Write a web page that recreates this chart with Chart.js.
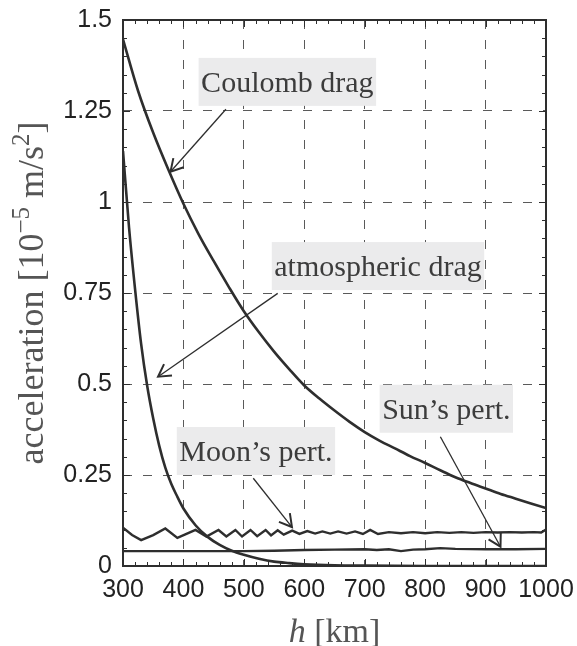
<!DOCTYPE html>
<html><head><meta charset="utf-8">
<script src="https://cdn.jsdelivr.net/npm/chart.js@4.4.1/dist/chart.umd.min.js"></script>
<style>html,body{margin:0;padding:0;background:#fff;}canvas{display:block;}</style>
</head><body>
<canvas id="c" width="577" height="646"></canvas>
<script>
// ---- data (altitude h in km, acceleration in 1e-5 m/s^2) ----
const xTickValues = [300, 400, 500, 600, 700, 800, 900, 1000];
const xTickLabels = ['300', '400', '500', '600', '700', '800', '900', '1000'];
const yTickValues = [0, 0.25, 0.5, 0.75, 1, 1.25, 1.5];
const yTickLabels = ['0', '0.25', '0.5', '0.75', '1', '1.25', '1.5'];

const coulombH = [300, 325, 350, 375, 400, 425, 450, 475, 500, 525, 550, 575, 600, 625, 650, 675, 700, 725, 750, 775, 800, 825, 850, 875, 900, 925, 950, 975, 1000];
const coulombA = [1.447, 1.305, 1.19, 1.089, 0.995, 0.912, 0.838, 0.767, 0.700, 0.642, 0.589, 0.541, 0.496, 0.460, 0.427, 0.396, 0.368, 0.344, 0.323, 0.302, 0.283, 0.263, 0.244, 0.228, 0.213, 0.198, 0.185, 0.172, 0.159];

const atmoH = [300, 310, 320, 330, 340, 350, 360, 370, 380, 390, 400, 420, 440, 460, 480, 500, 525, 550, 575, 600, 650, 700, 800, 1000];
const atmoA = [1.14, 0.93, 0.76, 0.61, 0.495, 0.405, 0.33, 0.27, 0.225, 0.19, 0.158, 0.112, 0.08, 0.058, 0.042, 0.031, 0.02, 0.012, 0.008, 0.005, 0.002, 0.001, 0.0, 0.0];

const moonH = [300, 315, 330, 350, 370, 390, 405, 420, 438, 458, 471, 486, 497, 511, 522, 536, 545, 556, 566, 580, 592, 605, 618, 630, 643, 656, 670, 684, 697, 709, 722, 740, 760, 780, 800, 820, 840, 860, 880, 900, 920, 940, 960, 980, 992, 1000];
const moonA = [0.105, 0.085, 0.071, 0.085, 0.103, 0.077, 0.088, 0.099, 0.081, 0.099, 0.081, 0.099, 0.081, 0.099, 0.082, 0.099, 0.084, 0.098, 0.086, 0.097, 0.088, 0.096, 0.089, 0.095, 0.089, 0.095, 0.089, 0.095, 0.088, 0.099, 0.088, 0.093, 0.090, 0.093, 0.090, 0.093, 0.091, 0.093, 0.091, 0.093, 0.092, 0.093, 0.092, 0.093, 0.092, 0.100];

const sunH = [300, 400, 500, 550, 600, 650, 700, 720, 740, 760, 780, 800, 825, 850, 900, 950, 1000];
const sunA = [0.041, 0.041, 0.041, 0.042, 0.044, 0.045, 0.046, 0.044, 0.046, 0.041, 0.045, 0.046, 0.049, 0.047, 0.046, 0.046, 0.047];

// annotations (data coordinates)
const noteTexts = ['Coulomb drag', 'atmospheric drag', 'Moon\u2019s pert.', 'Sun\u2019s pert.'];
const noteBoxH = [572, 722, 520, 835];
const noteBoxA = [1.33, 0.824, 0.316, 0.432];
const arrowFromH = [470.3, 556, 515.6, 825.2];
const arrowFromA = [1.2547, 0.749, 0.241, 0.355];
const arrowToH = [378.6, 358, 579.6, 924.7];
const arrowToA = [1.083, 0.52, 0.107, 0.053];

// ---- styling ----
const INK = '#2e2e2e';
const serif = '"Liberation Serif", "DejaVu Serif", serif';
const sans = '"Liberation Sans", Arial, sans-serif';

const pts = (xs, ys) => xs.map((v, i) => ({x: v, y: ys[i]}));

const decor = {
  id: 'decor',
  beforeDatasetsDraw(chart) {
    const {ctx, scales: {x, y}} = chart;
    ctx.save();
    ctx.font = '30px ' + serif;
    noteTexts.forEach((t, i) => {
      const cx = x.getPixelForValue(noteBoxH[i]);
      const cy = y.getPixelForValue(noteBoxA[i]);
      const w = ctx.measureText(t).width + 5;
      ctx.fillStyle = '#ebebec';
      ctx.fillRect(cx - w / 2, cy - 24, w, 48);
    });
    ctx.restore();
  },
  afterDatasetsDraw(chart) {
    const {ctx, chartArea: a, scales: {x, y}} = chart;
    ctx.save();
    // annotation texts
    ctx.font = '30px ' + serif;
    ctx.fillStyle = '#3c3c3c';
    ctx.textBaseline = 'alphabetic';
    ctx.textAlign = 'left';
    noteTexts.forEach((t, i) => {
      const cx = x.getPixelForValue(noteBoxH[i]);
      const cy = y.getPixelForValue(noteBoxA[i]);
      const w = ctx.measureText(t).width;
      ctx.fillText(t, cx - w / 2, cy + 10);
    });
    // arrows
    ctx.strokeStyle = INK;
    noteTexts.forEach((t, i) => {
      const x0 = x.getPixelForValue(arrowFromH[i]), y0 = y.getPixelForValue(arrowFromA[i]);
      const x1 = x.getPixelForValue(arrowToH[i]), y1 = y.getPixelForValue(arrowToA[i]);
      const ang = Math.atan2(y1 - y0, x1 - x0);
      ctx.lineWidth = 1.3;
      ctx.beginPath();
      ctx.moveTo(x0, y0); ctx.lineTo(x1, y1);
      ctx.stroke();
      const L = 14, da = 0.52;
      ctx.lineWidth = 2;
      ctx.beginPath();
      ctx.moveTo(x1 - L * Math.cos(ang - da), y1 - L * Math.sin(ang - da));
      ctx.lineTo(x1, y1);
      ctx.lineTo(x1 - L * Math.cos(ang + da), y1 - L * Math.sin(ang + da));
      ctx.stroke();
    });
    // minor / major inward ticks on all sides
    ctx.strokeStyle = INK;
    ctx.lineWidth = 1;
    ctx.beginPath();
    for (let v = 300; v <= 1000.001; v += 20) {
      const px = Math.round(x.getPixelForValue(v)) + 0.5;
      const major = Math.abs((v - 300) % 100) < 1e-6;
      const L = major ? 7 : 4;
      ctx.moveTo(px, a.bottom); ctx.lineTo(px, a.bottom - L);
      ctx.moveTo(px, a.top); ctx.lineTo(px, a.top + L);
    }
    for (let k = 0; k <= 30; k++) {
      const v = k * 0.05;
      const py = Math.round(y.getPixelForValue(v)) + 0.5;
      const L = (k % 5 === 0) ? 7 : 4;
      ctx.moveTo(a.left, py); ctx.lineTo(a.left + L, py);
      ctx.moveTo(a.right, py); ctx.lineTo(a.right - L, py);
    }
    ctx.stroke();
    // frame
    ctx.lineWidth = 2;
    ctx.strokeRect(a.left, a.top, a.right - a.left, a.bottom - a.top);
    ctx.restore();
  },
  afterDraw(chart) {
    const {ctx, chartArea: a} = chart;
    ctx.save();
    ctx.fillStyle = '#555555';
    ctx.textBaseline = 'alphabetic';
    ctx.textAlign = 'left';
    // x title: h [km]
    const fx = 34;
    ctx.font = 'italic ' + fx + 'px ' + serif;
    const wh = ctx.measureText('h').width;
    ctx.font = fx + 'px ' + serif;
    const wr = ctx.measureText(' [km]').width;
    let sx = (a.left + a.right) / 2 - (wh + wr) / 2;
    ctx.font = 'italic ' + fx + 'px ' + serif;
    ctx.fillText('h', sx, 642);
    ctx.font = fx + 'px ' + serif;
    ctx.fillText(' [km]', sx + wh, 642);
    // y title: acceleration [10^-5 m/s^2]
    const fy = 36, fs = 25;
    const parts = [
      {t: 'acceleration [10', sup: false},
      {t: '\u22125', sup: true},
      {t: ' m/s', sup: false},
      {t: '2', sup: true},
      {t: ']', sup: false}
    ];
    let total = 0;
    parts.forEach(p => {
      ctx.font = (p.sup ? fs : fy) + 'px ' + serif;
      p.w = ctx.measureText(p.t).width;
      total += p.w;
    });
    ctx.translate(43, (a.top + a.bottom) / 2);
    ctx.rotate(-Math.PI / 2);
    let cx = -total / 2;
    parts.forEach(p => {
      ctx.font = (p.sup ? fs : fy) + 'px ' + serif;
      ctx.fillText(p.t, cx, p.sup ? -14 : 0);
      cx += p.w;
    });
    ctx.restore();
  }
};

new Chart(document.getElementById('c'), {
  type: 'line',
  data: {
    datasets: [
      {label: 'Coulomb drag', data: pts(coulombH, coulombA), borderColor: INK, borderWidth: 2.6, pointRadius: 0, cubicInterpolationMode: 'monotone', fill: false},
      {label: 'atmospheric drag', data: pts(atmoH, atmoA), borderColor: INK, borderWidth: 2.6, pointRadius: 0, cubicInterpolationMode: 'monotone', fill: false},
      {label: 'Moon\u2019s pert.', data: pts(moonH, moonA), borderColor: INK, borderWidth: 2.4, pointRadius: 0, tension: 0, fill: false},
      {label: 'Sun\u2019s pert.', data: pts(sunH, sunA), borderColor: INK, borderWidth: 2.4, pointRadius: 0, tension: 0, fill: false}
    ]
  },
  options: {
    responsive: false,
    animation: false,
    devicePixelRatio: 1,
    layout: {padding: {top: 20, right: 31, left: 0, bottom: 0}},
    plugins: {legend: {display: false}, tooltip: {enabled: false}},
    scales: {
      x: {
        type: 'linear', min: 300, max: 1000,
        afterBuildTicks: s => { s.ticks = xTickValues.map(v => ({value: v})); },
        afterFit: s => { s.height = 80; s.paddingLeft = 0; s.paddingRight = 0; },
        ticks: {
          callback: v => xTickLabels[xTickValues.indexOf(v)],
          font: {family: sans, size: 25}, color: '#222222', padding: 9,
          maxRotation: 0, autoSkip: false
        },
        grid: {color: '#5a5a5a', lineWidth: 1, drawTicks: false},
        border: {display: false, dash: [9, 11]}
      },
      y: {
        type: 'linear', min: 0, max: 1.5,
        afterBuildTicks: s => { s.ticks = yTickValues.map(v => ({value: v})); },
        afterFit: s => { s.width = 123; s.paddingTop = 0; s.paddingBottom = 0; },
        ticks: {
          callback: v => yTickLabels[yTickValues.indexOf(v)],
          font: {family: sans, size: 25}, color: '#222222', padding: 11
        },
        grid: {color: '#5a5a5a', lineWidth: 1, drawTicks: false},
        border: {display: false, dash: [9, 11]}
      }
    }
  },
  plugins: [decor]
});
</script>
</body></html>
